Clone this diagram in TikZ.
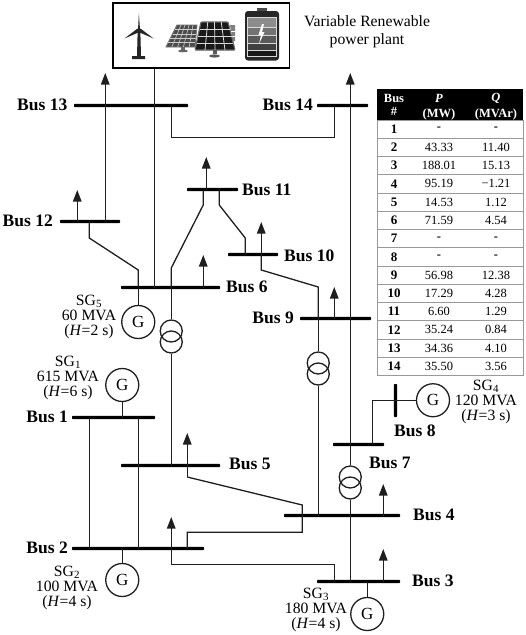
\documentclass[tikz,border=0pt]{standalone}
\usepackage{fontspec}
\setmainfont{Liberation Serif}
\usetikzlibrary{arrows.meta,calc}
\definecolor{wire}{gray}{0.12}
\definecolor{rowline}{gray}{0.6}
\tikzset{
  x=1pt,y=-1pt,
  wireline/.style={draw=wire,line width=1.3pt,line join=miter},
  load/.style={wireline,-{Triangle[width=8.5pt,length=11.5pt]}},
  busbar/.style={fill=black,inner sep=0pt,minimum height=3.2pt,rounded corners=0.8pt},
  gen/.style={circle,draw=wire,line width=1.3pt,minimum size=33pt,inner sep=0pt,font=\fontsize{17}{17}\selectfont},
  xf/.style={circle,draw=wire,line width=1.3pt,minimum size=22pt,inner sep=0pt},
  buslabel/.style={inner sep=0pt,font=\fontsize{17.5}{18}\selectfont\bfseries},
  info/.style={inner sep=0pt,align=center,font=\fontsize{15.7}{15}\selectfont},
  cell/.style={inner sep=0pt,font=\fontsize{12.5}{12}\selectfont},
  bcell/.style={cell,font=\fontsize{13}{12}\selectfont\bfseries},
  hcell/.style={cell,text=white,font=\fontsize{12.5}{12}\selectfont\bfseries}
}
\begin{document}
\begin{tikzpicture}
\useasboundingbox (0,0) rectangle (526,635);
\fill[white] (0,0) rectangle (526,635);

% buses
\node[busbar,minimum width=114pt] (b13) at (131,105.5) {};
\node[busbar,minimum width=51pt] (b14) at (342.5,105.5) {};
\node[busbar,minimum width=60pt] (b12) at (90,221.5) {};
\node[busbar,minimum width=51pt] (b11) at (212.5,189.5) {};
\node[busbar,minimum width=50pt] (b10) at (253,254.5) {};
\node[busbar,minimum width=99pt] (b6) at (170.5,287.5) {};
\node[busbar,minimum width=71pt] (b9) at (335.5,318.5) {};
\node[busbar,minimum width=99pt] (b5) at (170.5,465.5) {};
\node[busbar,minimum width=83pt] (b1) at (113.5,417.5) {};
\node[busbar,minimum width=132pt] (b2) at (138,548.5) {};
\node[busbar,minimum width=116pt] (b4) at (342,515.5) {};
\node[busbar,minimum width=83pt] (b3) at (358.5,581.5) {};
\node[busbar,minimum width=51pt] (b7) at (358.5,444.5) {};
\node[busbar,minimum width=3.2pt,minimum height=33pt] (b8) at (395.5,400.5) {};

% bus labels
\node[buslabel,anchor=east] (l13) at (67.5,105) {Bus 13};
\node[buslabel,anchor=east] (l14) at (313,105) {Bus 14};
\node[buslabel,anchor=east] (l12) at (53,221) {Bus 12};
\node[buslabel,anchor=west] (l11) at (242,190) {Bus 11};
\node[buslabel,anchor=west] (l10) at (284,256) {Bus 10};
\node[buslabel,anchor=west] (l6) at (226,287) {Bus 6};
\node[buslabel,anchor=east] (l9) at (294,318) {Bus 9};
\node[buslabel,anchor=west] (l5) at (229,464) {Bus 5};
\node[buslabel,anchor=east] (l1) at (68,417) {Bus 1};
\node[buslabel,anchor=east] (l2) at (68,548) {Bus 2};
\node[buslabel,anchor=west] (l8) at (394,431) {Bus 8};
\node[buslabel,anchor=west] (l7) at (369,463) {Bus 7};
\node[buslabel,anchor=west] (l4) at (413,515) {Bus 4};
\node[buslabel,anchor=west] (l3) at (412,581) {Bus 3};

% generators
\node[gen] (g5) at (138.25,322) {G};
\node[gen] (g1) at (122.25,385) {G};
\node[gen] (g2) at (122.25,580) {G};
\node[gen] (g3) at (367.25,614) {G};
\node[gen] (g4) at (433,400.25) {G};

% generator texts
\node[info] (s5) at (89,317) {SG\textsubscript{5}\\60 MVA\\(\textit{H}=2 s)};
\node[info] (s1) at (68,378) {SG\textsubscript{1}\\615 MVA\\(\textit{H}=6 s)};
\node[info] (s2) at (67,588) {SG\textsubscript{2}\\100 MVA\\(\textit{H}=4 s)};
\node[info] (s3) at (316,610) {SG\textsubscript{3}\\180 MVA\\(\textit{H}=4 s)};
\node[info] (s4) at (486,402) {SG\textsubscript{4}\\120 MVA\\(\textit{H}=3 s)};
\node[info] (vr) at (367,31.5) {Variable Renewable\\[3pt]power plant};

% transformers
\node[xf] (t1a) at (171.25,331) {};
\node[xf] (t1b) at (171.25,342) {};
\node[xf] (t2a) at (318.25,363) {};
\node[xf] (t2b) at (318.25,374) {};
\node[xf] (t3a) at (350.25,477) {};
\node[xf] (t3b) at (350.25,488) {};

% plant box
\node[draw=black,line width=1.5pt,inner sep=0pt,minimum width=176.5pt,minimum height=65pt] (plant) at (201.3,35.5) {};

% icons
\begin{scope}
  % turbine
  \fill[black!85] (137.7,30) -- (140.3,30) -- (141,56) -- (145,56) -- (145,59) -- (132,59) -- (132,56) -- (137,56) -- cycle;
  \fill[black!85] (138,30) -- (138.9,13) -- (140,30) -- cycle;
  \fill[black!85] (137.5,28.5) -- (124.5,38.5) -- (139.5,32) -- cycle;
  \fill[black!85] (140.5,28.5) -- (153.5,38.5) -- (138.5,32) -- cycle;
  % left panel
  \coordinate (pa) at (177,25); \coordinate (pb) at (197,25);
  \coordinate (pc) at (195,47); \coordinate (pd) at (166,47);
  \draw[black!55,line width=0.9pt,fill=black!70] (pa) -- (pb) -- (pc) -- (pd) -- cycle;
  \foreach \t in {0.2,0.4,0.6,0.8}{
    \draw[white!80!black,line width=0.6pt] ($(pa)!\t!(pb)$) -- ($(pd)!\t!(pc)$);
    \draw[white!80!black,line width=0.6pt] ($(pa)!\t!(pd)$) -- ($(pb)!\t!(pc)$);}
  \fill[black!60] (181,47) rectangle (185,50);
  \fill[black!60] (183,51) ellipse[x radius=5,y radius=1.3];
  % right partial panel
  \fill[black!50] (230,25) -- (235,25) -- (235,41) -- (233,41) -- cycle;
  \draw[white,line width=0.5pt] (231,31) -- (235,31) (232,36) -- (235,36);
  % centre panel
  \coordinate (qa) at (201,22); \coordinate (qb) at (228,22);
  \coordinate (qc) at (235,50); \coordinate (qd) at (195,50);
  \fill[black!90,draw=black!60,line width=1.2pt,rounded corners=1pt] (qa) -- (qb) -- (qc) -- (qd) -- cycle;
  \foreach \t in {0.25,0.5,0.75}{
    \draw[white!85!black,line width=0.8pt] ($(qa)!\t!(qb)$) -- ($(qd)!\t!(qc)$);
    \draw[white!85!black,line width=0.8pt] ($(qa)!\t!(qd)$) -- ($(qb)!\t!(qc)$);}
  \fill[black!65] (213,50) rectangle (217,54);
  \fill[black!65] (214.5,56) ellipse[x radius=5.5,y radius=1.6];
  % battery
  \fill[black!70] (257,8) rectangle (267,12);
  \fill[black!85,rounded corners=3pt] (245,11) rectangle (279,60.5);
  \fill[black!45] (248,18) rectangle (276,27);
  \fill[black!55] (248,28) rectangle (276,35);
  \fill[black!65] (248,36) rectangle (276,43);
  \fill[black!75] (248,44) rectangle (276,50);
  \fill[black!90] (248,51) rectangle (276,56);
  \draw[white!85!black,line width=0.6pt] (248,27.5) -- (276,27.5) (248,35.5) -- (276,35.5) (248,43.5) -- (276,43.5) (248,50.5) -- (276,50.5);
  \draw[white!85!black,line width=0.6pt] (247.5,17) rectangle (276.5,56.5);
  \fill[white] (262,24) -- (258.5,35) -- (261,35) -- (259,44) -- (264.5,32) -- (262,32) -- (264,24) -- cycle;
\end{scope}

% load arrow tips
\coordinate (a13) at (105.25,73);
\coordinate (a12) at (77.25,190);
\coordinate (a11) at (206.25,157);
\coordinate (a10) at (261.25,222);
\coordinate (a6) at (203.25,255);
\coordinate (a9) at (334.25,287);
\coordinate (a7) at (350.25,73);
\coordinate (a5) at (187.25,433);
\coordinate (a4) at (383.25,484);
\coordinate (a3) at (383.25,549);
\coordinate (a2) at (171.25,517);

% loads
\draw[load] (a13 |- b12) -- (a13);
\draw[load] (a12 |- b12) -- (a12);
\draw[load] (a11 |- b11) -- (a11);
\draw[load] (a10 |- b10) -- (a10);
\draw[load] (a6 |- b6) -- (a6);
\draw[load] (a9 |- b9) -- (a9);
\draw[load] (a7 |- b7) -- (a7);
\draw[load] (a4 |- b4) -- (a4);
\draw[load] (a3 |- b3) -- (a3);

% plant feeder
\draw[wireline] (154.25,0 |- plant.south) -- (154.25,0 |- b6);

% branches
\draw[wireline] (171.25,0 |- b13) -- (171.25,137.25) -- (334.25,137.25) -- (334.25,0 |- b14);
\draw[wireline] (89.25,0 |- b12) -- (89.25,238) -- (138.25,270) -- (138.25,0 |- b6);
\draw[wireline] (203.25,0 |- b11) -- (203.25,205) -- (171.25,268) -- (171.25,0 |- b6);
\draw[wireline] (219.25,0 |- b11) -- (219.25,205) -- (245.25,238) -- (245.25,0 |- b10);
\draw[wireline] (a10 |- b10) -- (261.25,270) -- (318.25,287) -- (318.25,0 |- b9);
\draw[wireline] (t2a) -- (t2a |- b9);
\draw[wireline] (t2b) -- (t2b |- b4);
\draw[wireline] (t1a) -- (t1a |- b6);
\draw[wireline] (t1b) -- (t1b |- b5);
\draw[wireline] (t3a) -- (t3a |- b7);
\draw[wireline] (t3b) -- (t3b |- b3);
\draw[wireline] (89.25,0 |- b1) -- (89.25,0 |- b2);
\draw[wireline] (138.25,0 |- b1) -- (138.25,0 |- b2);
\draw[load] (187.25,477) -- (a5);
\draw[wireline] (187.25,477) -- (302.25,505) -- (302.25,532.25) -- (187.25,532.25) -- (187.25,0 |- b2);
\draw[load] (334.25,0 |- b3) -- (334.25,564.25) -- (171.25,564.25) -- (a2);
\draw[wireline] (g5) -- (g5 |- b6);
\draw[wireline] (g1) -- (g1 |- b1);
\draw[wireline] (g2) -- (g2 |- b2);
\draw[wireline] (g3) -- (g3 |- b3);
\draw[wireline] (g4) -- (g4 -| b8);
\draw[wireline] (372.25,0 |- g4) -- (g4 -| b8);
\draw[wireline] (372.25,0 |- g4) -- (372.25,0 |- b7);

% table
\fill[black] (377,89) rectangle (523,120);
\node[hcell] (h1) at (394,98) {Bus};
\node[hcell] (h2) at (394,111.5) {\#};
\node[hcell] (h3) at (439,98) {\textit{P}};
\node[hcell] (h4) at (439,114) {(MW)};
\node[hcell] (h5) at (496,98) {\textit{Q}};
\node[hcell] (h6) at (496,114) {(MVAr)};
\draw[rowline,line width=0.9pt] (377,120) rectangle (523,375.5);
\foreach \i/\p/\q in {1/\textbf{-}/\textbf{-},2/43.33/11.40,3/188.01/15.13,4/95.19/−1.21,5/14.53/1.12,6/71.59/4.54,7/\textbf{-}/\textbf{-},8/\textbf{-}/\textbf{-},9/56.98/12.38,10/17.29/4.28,11/6.60/1.29,12/35.24/0.84,13/34.36/4.10,14/35.50/3.56}{
  \pgfmathsetmacro{\yy}{120+(\i-0.5)*18.25}
  \pgfmathsetmacro{\yl}{120+\i*18.25}
  \node[bcell] (n\i) at (394,\yy) {\i};
  \node[cell] (p\i) at (439,\yy) {\p};
  \node[cell] (q\i) at (496,\yy) {\q};
  \ifnum\i<14 \draw[rowline,line width=0.9pt] (377,\yl) -- (523,\yl);\fi
}
\end{tikzpicture}
\end{document}
